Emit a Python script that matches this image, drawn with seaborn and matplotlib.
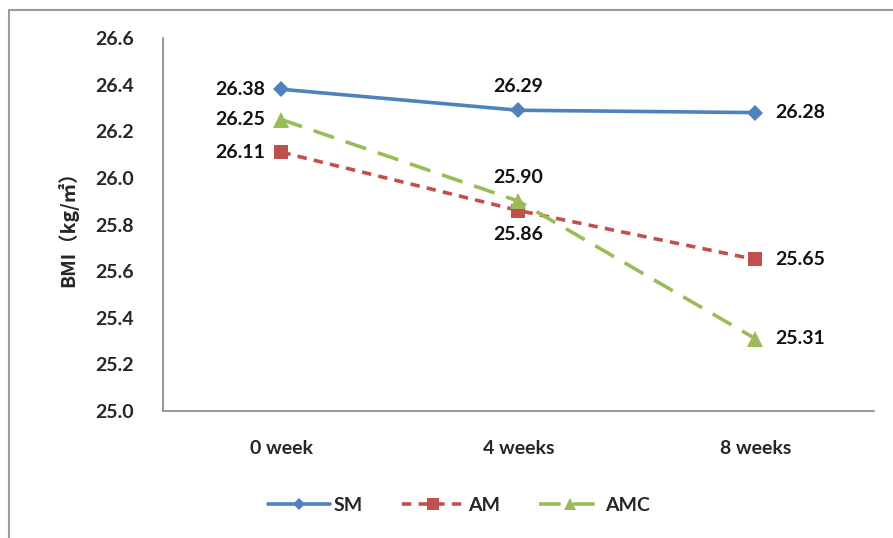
import matplotlib
matplotlib.use("Agg")
import numpy as np
import pandas as pd
import matplotlib.pyplot as plt
import seaborn as sns
from matplotlib.lines import Line2D
from matplotlib.ticker import FixedLocator

# ------------------------
# data
# ------------------------
weeks = ["0 week", "4 weeks", "8 weeks"]
sm = [26.38, 26.29, 26.28]
am = [26.11, 25.86, 25.65]
amc = [26.25, 25.90, 25.31]
groups = ["SM", "AM", "AMC"]

df = pd.DataFrame({
    "week": weeks * 3,
    "bmi": sm + am + amc,
    "group": [g for g in groups for _ in weeks],
})

colors = {"SM": "#4F81BD", "AM": "#C0504D", "AMC": "#9BBB59"}
markers = {"SM": "D", "AM": "s", "AMC": "^"}
msize = {"SM": 8, "AM": 10.5, "AMC": 11}
dashes = {"SM": "", "AM": (2.6, 2.0), "AMC": (6.0, 3.4)}

# where each value label goes relative to its point (offset in points, ha, va)
label_pos = {
    "SM": [(-12, 0, "right", "center"), (0, 17, "center", "center"), (14, 0, "left", "center")],
    "AM": [(-12, 0, "right", "center"), (0, -17, "center", "center"), (14, 0, "left", "center")],
    "AMC": [(-12, 0, "right", "center"), (0, 17, "center", "center"), (14, 0, "left", "center")],
}

FS = 14

sns.set_style("white")
plt.rcParams["font.family"] = ["Lato", "Noto Sans CJK SC", "DejaVu Sans"]
plt.rcParams["font.weight"] = "bold"

fig = plt.figure(figsize=(8.93, 5.38), dpi=100)
ax = fig.add_axes([0.1825, 0.236, 0.7962, 0.6934])

for g in groups:
    sub = df[df["group"] == g]
    sns.lineplot(data=sub, x="week", y="bmi", ax=ax, color=colors[g],
                 marker=markers[g], markersize=msize[g], markeredgewidth=0,
                 linewidth=2.6, dashes=False, legend=False)
    line = ax.get_lines()[-1]
    if dashes[g]:
        line.set_dashes(dashes[g])
    for i, (w, v) in enumerate(zip(sub["week"], sub["bmi"])):
        dx, dy, ha, va = label_pos[g][i]
        ax.annotate(f"{v:.2f}", (i, v), xytext=(dx, dy), textcoords="offset points",
                    ha=ha, va=va, fontsize=FS, fontweight="bold", color="#111111")

ax.set_xlim(-0.5, 2.5)
ax.set_ylim(25.0, 26.6)
ax.set_yticks(np.arange(25.0, 26.61, 0.2))
ax.set_yticklabels([f"{t:.1f}" for t in np.arange(25.0, 26.61, 0.2)], fontsize=FS)
ax.set_xticks(range(3))
ax.set_xticklabels(weeks, fontsize=FS)
ax.xaxis.set_minor_locator(FixedLocator([-0.5, 0.5, 1.5, 2.5]))
ax.tick_params(axis="x", which="major", length=0, pad=21)
ax.tick_params(axis="x", which="minor", length=5, width=1.2, color="#868686", direction="out")
ax.tick_params(axis="y", length=5, width=1.2, color="#868686", direction="out", pad=16)
ax.set_xlabel("")
ax.set_ylabel("BMI（kg/㎡）", fontsize=FS, fontweight="bold",
              family=["Noto Sans CJK SC", "DejaVu Sans"], labelpad=12)

for s in ["top", "right"]:
    ax.spines[s].set_visible(False)
for s in ["left", "bottom"]:
    ax.spines[s].set_color("#868686")
    ax.spines[s].set_linewidth(1.2)

handles = [Line2D([0], [0], color=colors[g], marker=markers[g], markersize=msize[g] * 0.8,
                  markeredgewidth=0, linewidth=2.6,
                  linestyle=(0, dashes[g]) if dashes[g] else "-") for g in groups]
fig.legend(handles, groups, loc="center", bbox_to_anchor=(0.514, 0.06), ncol=3,
           frameon=False, handlelength=3.2, columnspacing=2.0, handletextpad=0.2,
           prop={"size": FS, "weight": "bold"})

# outer chart border (left and top only)
fig.add_artist(Line2D([0.0106, 0.0106], [0.0, 0.981], transform=fig.transFigure,
                      color="#9a9a9a", linewidth=1.5))
fig.add_artist(Line2D([0.0106, 1.0], [0.981, 0.981], transform=fig.transFigure,
                      color="#9a9a9a", linewidth=1.5))

fig.savefig("out.png", dpi=100, facecolor="white")
